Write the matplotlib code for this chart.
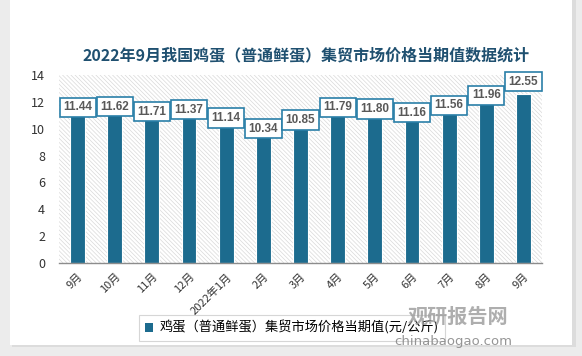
import matplotlib.pyplot as plt
import matplotlib.patches as patches
import numpy as np

plt.rcParams['font.family'] = ['Noto Sans CJK SC', 'DejaVu Sans']
plt.rcParams['hatch.color'] = '#d9d9d9'
plt.rcParams['hatch.linewidth'] = 0.5

# data
months = ['9月', '10月', '11月', '12月', '2022年1月', '2月', '3月', '4月', '5月', '6月', '7月', '8月', '9月']
prices = [11.44, 11.62, 11.71, 11.37, 11.14, 10.34, 10.85, 11.79, 11.80, 11.16, 11.56, 11.96, 12.55]
# vertical shift of each value label (data units), as in the original
label_dy = [0.16, 0.02, -0.44, 0.03, -0.34, -0.34, -0.2, -0.21, -0.33, 0.04, 0.17, 0.54, 0.95]

fig = plt.figure(figsize=(5.82, 3.56), dpi=100, facecolor='#ececec')
# white card with soft shadow
fig.patches.append(patches.Rectangle((12/582, 9/356), 564/582, 347/356, transform=fig.transFigure,
                                     facecolor='#dcdcdc', edgecolor='none', zorder=-2))
fig.patches.append(patches.Rectangle((10/582, 11/356), 562/582, 345/356, transform=fig.transFigure,
                                     facecolor='white', edgecolor='none', zorder=-1))

ax = fig.add_axes([59/582, 1 - 263/356, 483/582, 188/356])
ax.set_zorder(1)
ax.set_facecolor('white')
ax.add_patch(patches.Rectangle((0, 0), 1, 1, transform=ax.transAxes, facecolor='white',
                               edgecolor='#d9d9d9', hatch='\\' * 8, linewidth=0, zorder=0))

x = np.arange(len(months))
ax.bar(x, prices, width=0.4, color='#1c6b8e', edgecolor='white', linewidth=0.8, zorder=3)

for xi, v, dy in zip(x, prices, label_dy):
    ax.text(xi, v + dy, f'{v:.2f}', ha='center', va='center', fontsize=8.5, fontweight='bold',
            color='#595959', zorder=5, family='Liberation Sans',
            bbox=dict(boxstyle='square,pad=0.3', facecolor='white', edgecolor='#2a7fa8', linewidth=1.2))

ax.set_xlim(-0.5, len(months) - 0.5)
ax.set_ylim(0, 14)
ax.set_yticks(range(0, 15, 2))
ax.set_xticks(x)
ax.set_xticklabels(months, rotation=45, ha='right', rotation_mode='anchor', fontsize=8, color='#333333')
ax.tick_params(axis='y', length=0, labelsize=9, labelcolor='#333333', pad=10)
ax.tick_params(axis='x', length=0, pad=6)
for s in ['top', 'right', 'left']:
    ax.spines[s].set_visible(False)
ax.spines['bottom'].set_color('#8c8c8c')
ax.spines['bottom'].set_linewidth(1)
ax.spines['bottom'].set_zorder(4)

fig.text(306/582, 1 - 55/356, '2022年9月我国鸡蛋（普通鲜蛋）集贸市场价格当期值数据统计', ha='center', va='center',
         fontsize=11.5, fontweight='bold', color='#1f5070')

# legend
handle = patches.Patch(facecolor='#1c6b8e', edgecolor='none')
leg = fig.legend([handle], ['鸡蛋（普通鲜蛋）集贸市场价格当期值(元/公斤)'], loc='center',
                 bbox_to_anchor=(292/582, 1 - 328/356), fontsize=9.5, frameon=True, fancybox=False,
                 handlelength=0.6, handleheight=0.6, handletextpad=0.5, borderpad=0.45)
leg.get_frame().set_edgecolor('#cccccc')
leg.get_frame().set_linewidth(0.8)
leg.set_zorder(5)

# watermark (on top of the legend, as in the original)
fig.text(458/582, 1 - 316/356, '观研报告网', ha='center', va='center', fontsize=14.5, fontweight='bold',
         color='#9a9a9a', alpha=0.8, zorder=10)
fig.text(453/582, 1 - 341/356, 'chinabaogao.com', ha='center', va='center', fontsize=9.5,
         color='#8a8a8a', alpha=0.9, family='DejaVu Sans', zorder=10)

fig.savefig('out.png', dpi=100, facecolor=fig.get_facecolor())
